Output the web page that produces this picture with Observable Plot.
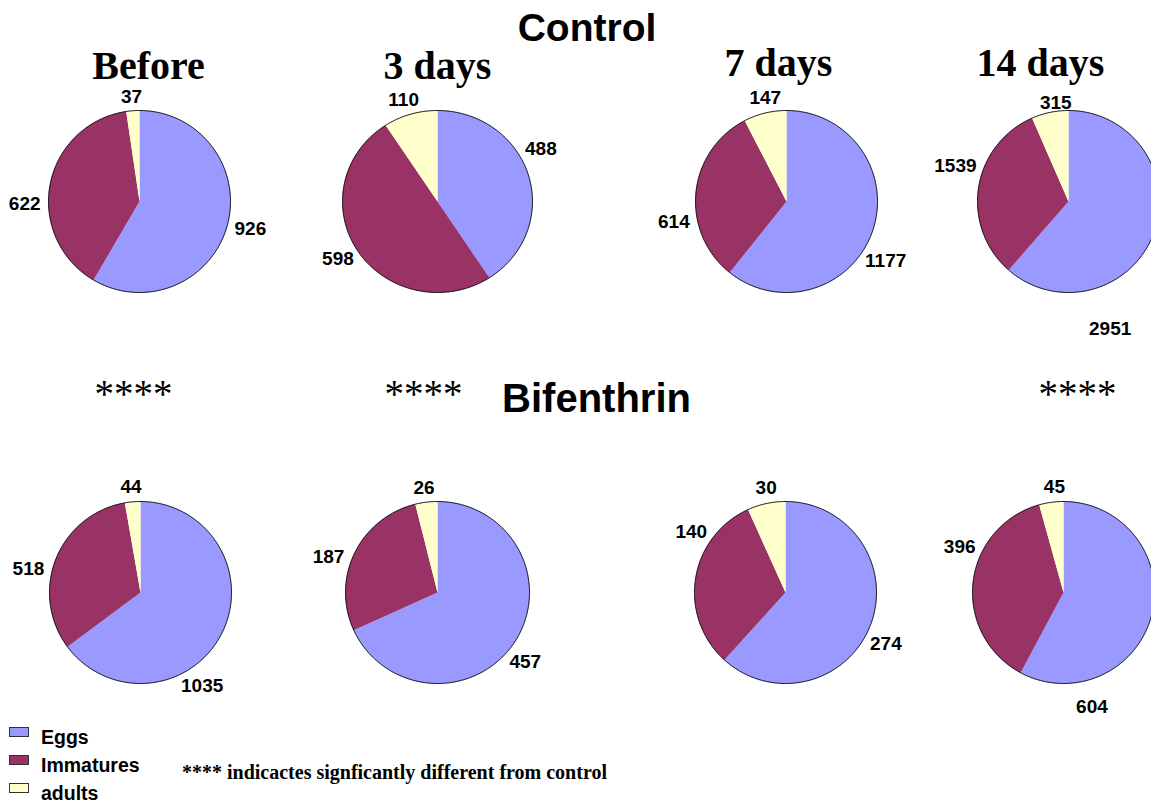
<!DOCTYPE html>
<html>
<head>
<meta charset="utf-8">
<script src="https://cdn.jsdelivr.net/npm/d3@7"></script>
<script src="https://cdn.jsdelivr.net/npm/@observablehq/plot@0.6"></script>
<style>
  html, body { margin: 0; padding: 0; background: #fff; overflow: hidden; }
  #page { position: relative; width: 1151px; height: 806px; overflow: hidden; background: #fff; }
  .abs { position: absolute; white-space: nowrap; line-height: 1; color: #000; }
  #title { font: bold 39px "Liberation Sans", Arial, sans-serif; left: 587px; top: 6px; transform: translateX(-50%); z-index: 2; }
  #chart { position: absolute; left: 0; top: 0; }
  .sw { position: absolute; box-sizing: border-box; border: 1px solid #333; width: 20px; height: 10px; }
  .lg { font: bold 19.5px "Liberation Sans", Arial, sans-serif; }
  #note { font: bold 20px "Liberation Serif", "Times New Roman", serif; left: 182px; top: 761px; }
</style>
</head>
<body>
<div id="page">
  <div id="chart"></div>
  <div id="title" class="abs">Control</div>
  <div id="legend"></div>
  <div id="note" class="abs">**** indicactes signficantly different from control</div>
</div>
<script>
// ---------- data ----------
const periods = ["Before", "3 days", "7 days", "14 days"];
const treatments = ["Control", "Bifenthrin"];
const stages = ["Eggs", "Immatures", "adults"];
const stageColors = ["#9999ff", "#993366", "#ffffcc"];

const controlEggs = [926, 488, 1177, 2951];
const controlImmatures = [622, 598, 614, 1539];
const controlAdults = [37, 110, 147, 315];

const bifenthrinEggs = [1035, 457, 274, 604];
const bifenthrinImmatures = [518, 187, 140, 396];
const bifenthrinAdults = [44, 26, 30, 45];

// significance marker shown above the Bifenthrin pie of each period
const significant = [true, true, false, true];

// ---------- layout (page pixels) ----------
const pieCx = [[139, 437, 786, 1068], [140, 437, 785, 1063]];
const pieCy = [201, 592];
const pieRx = [[91, 95, 91, 91], [91, 92, 91, 91]];
const pieRy = 91;
const headerX = [148, 437, 778, 1040];
const headerY = [78, 78, 75, 75];
const starX = [133, 423, 0, 1077];
const starY = 406;
// label nudges [angle degrees, extra radius] per pie per stage (Excel-dragged labels)
const labelNudge = [
  [[[0,0],[-12,0],[0,-1]], [[-13,0],[0,0],[0,0]], [[15,0],[-17,0],[3,0]], [[53,27],[11,0],[5,-7]]],
  [[[33,2],[-9,0],[0,0]], [[8,0],[-6,0],[0,0]], [[8,0],[26,0],[2,0]], [[63,12],[19,0],[3,0]]]
];
const labelSize = 19;
const svgHeight = 720, W = 1151;

const valuesFor = (ti, pi) => ti === 0
  ? [controlEggs[pi], controlImmatures[pi], controlAdults[pi]]
  : [bifenthrinEggs[pi], bifenthrinImmatures[pi], bifenthrinAdults[pi]];

const pie = d3.pie().sort(null).startAngle(0).endAngle(2 * Math.PI);
const slicePts = [], outlinePts = [], labels = [];
const deg = Math.PI / 180;

treatments.forEach((t, ti) => {
  periods.forEach((p, pi) => {
    const cx = pieCx[ti][pi], cy = pieCy[ti], rx = pieRx[ti][pi], ry = pieRy;
    const vals = valuesFor(ti, pi);
    const arcs = pie(vals);
    arcs.forEach((a, si) => {
      const key = `${t}-${p}-${stages[si]}`;
      const n = Math.max(2, Math.ceil((a.endAngle - a.startAngle) / (0.5 * deg)));
      slicePts.push({key, stage: stages[si], x: cx, y: cy});
      for (let k = 0; k <= n; k++) {
        const ang = a.startAngle + (a.endAngle - a.startAngle) * k / n;
        slicePts.push({key, stage: stages[si], x: cx + rx * Math.sin(ang), y: cy - ry * Math.cos(ang)});
      }
      slicePts.push({key, stage: stages[si], x: cx, y: cy});
      // label
      const [nA, nR] = labelNudge[ti][pi][si];
      const th = (a.startAngle + a.endAngle) / 2 + nA * deg;
      const txt = String(vals[si]);
      const halfW = txt.length * 0.556 * labelSize / 2, halfH = 0.716 * labelSize / 2, gap = 8;
      labels.push({
        text: txt,
        x: cx + (rx + gap + halfW + nR) * Math.sin(th),
        y: cy - (ry + gap + halfH + nR) * Math.cos(th)
      });
    });
    for (let k = 0; k <= 720; k++) {
      const ang = k * 0.5 * deg;
      outlinePts.push({pie: `${t}-${p}`, x: cx + rx * Math.sin(ang), y: cy - ry * Math.cos(ang)});
    }
  });
});

const sans = "'Liberation Sans', Arial, sans-serif";
const serif = "'Liberation Serif', 'Times New Roman', serif";

const chart = Plot.plot({
  width: W,
  height: svgHeight,
  margin: 0,
  x: {domain: [0, W], range: [0, W], axis: null},
  y: {domain: [0, svgHeight], range: [0, svgHeight], axis: null},
  color: {domain: stages, range: stageColors},
  style: {background: "transparent", overflow: "hidden"},
  marks: [
    Plot.line(slicePts, {x: "x", y: "y", z: "key", fill: "stage", stroke: "none", curve: "linear", clip: true}),
    Plot.line(outlinePts, {x: "x", y: "y", z: "pie", stroke: "#000", strokeWidth: 1, fill: "none", clip: true}),
    Plot.text(labels, {x: "x", y: "y", text: "text", fontSize: labelSize, fontWeight: "bold",
      fontFamily: sans, textAnchor: "middle", lineAnchor: "middle", fill: "#000"}),
    Plot.text(periods, {x: (d, i) => headerX[i], y: (d, i) => headerY[i], text: d => d,
      fontSize: 40, fontWeight: "bold", fontFamily: serif, textAnchor: "middle", lineAnchor: "bottom", fill: "#000"}),
    Plot.text(periods.filter((d, i) => significant[i]), {
      x: d => starX[periods.indexOf(d)], y: () => starY, text: () => "****",
      fontSize: 39, fontFamily: serif, textAnchor: "middle", lineAnchor: "bottom", fill: "#000"}),
    Plot.text([treatments[1]], {x: () => 596, y: () => 411, text: d => d, fontSize: 40, fontWeight: "bold",
      fontFamily: sans, textAnchor: "middle", lineAnchor: "bottom", fill: "#000"})
  ]
});
document.getElementById("chart").appendChild(chart);

// legend
const legend = document.getElementById("legend");
const legendBase = [742, 770, 798];
stages.forEach((s, i) => {
  const sw = document.createElement("div");
  sw.className = "sw";
  sw.style.left = "9px";
  sw.style.top = (legendBase[i] - 15) + "px";
  sw.style.background = stageColors[i];
  legend.appendChild(sw);
  const tx = document.createElement("div");
  tx.className = "abs lg";
  tx.style.left = "41px";
  tx.style.top = (legendBase[i] - 16.5) + "px";
  tx.textContent = s;
  legend.appendChild(tx);
});
</script>
</body>
</html>
